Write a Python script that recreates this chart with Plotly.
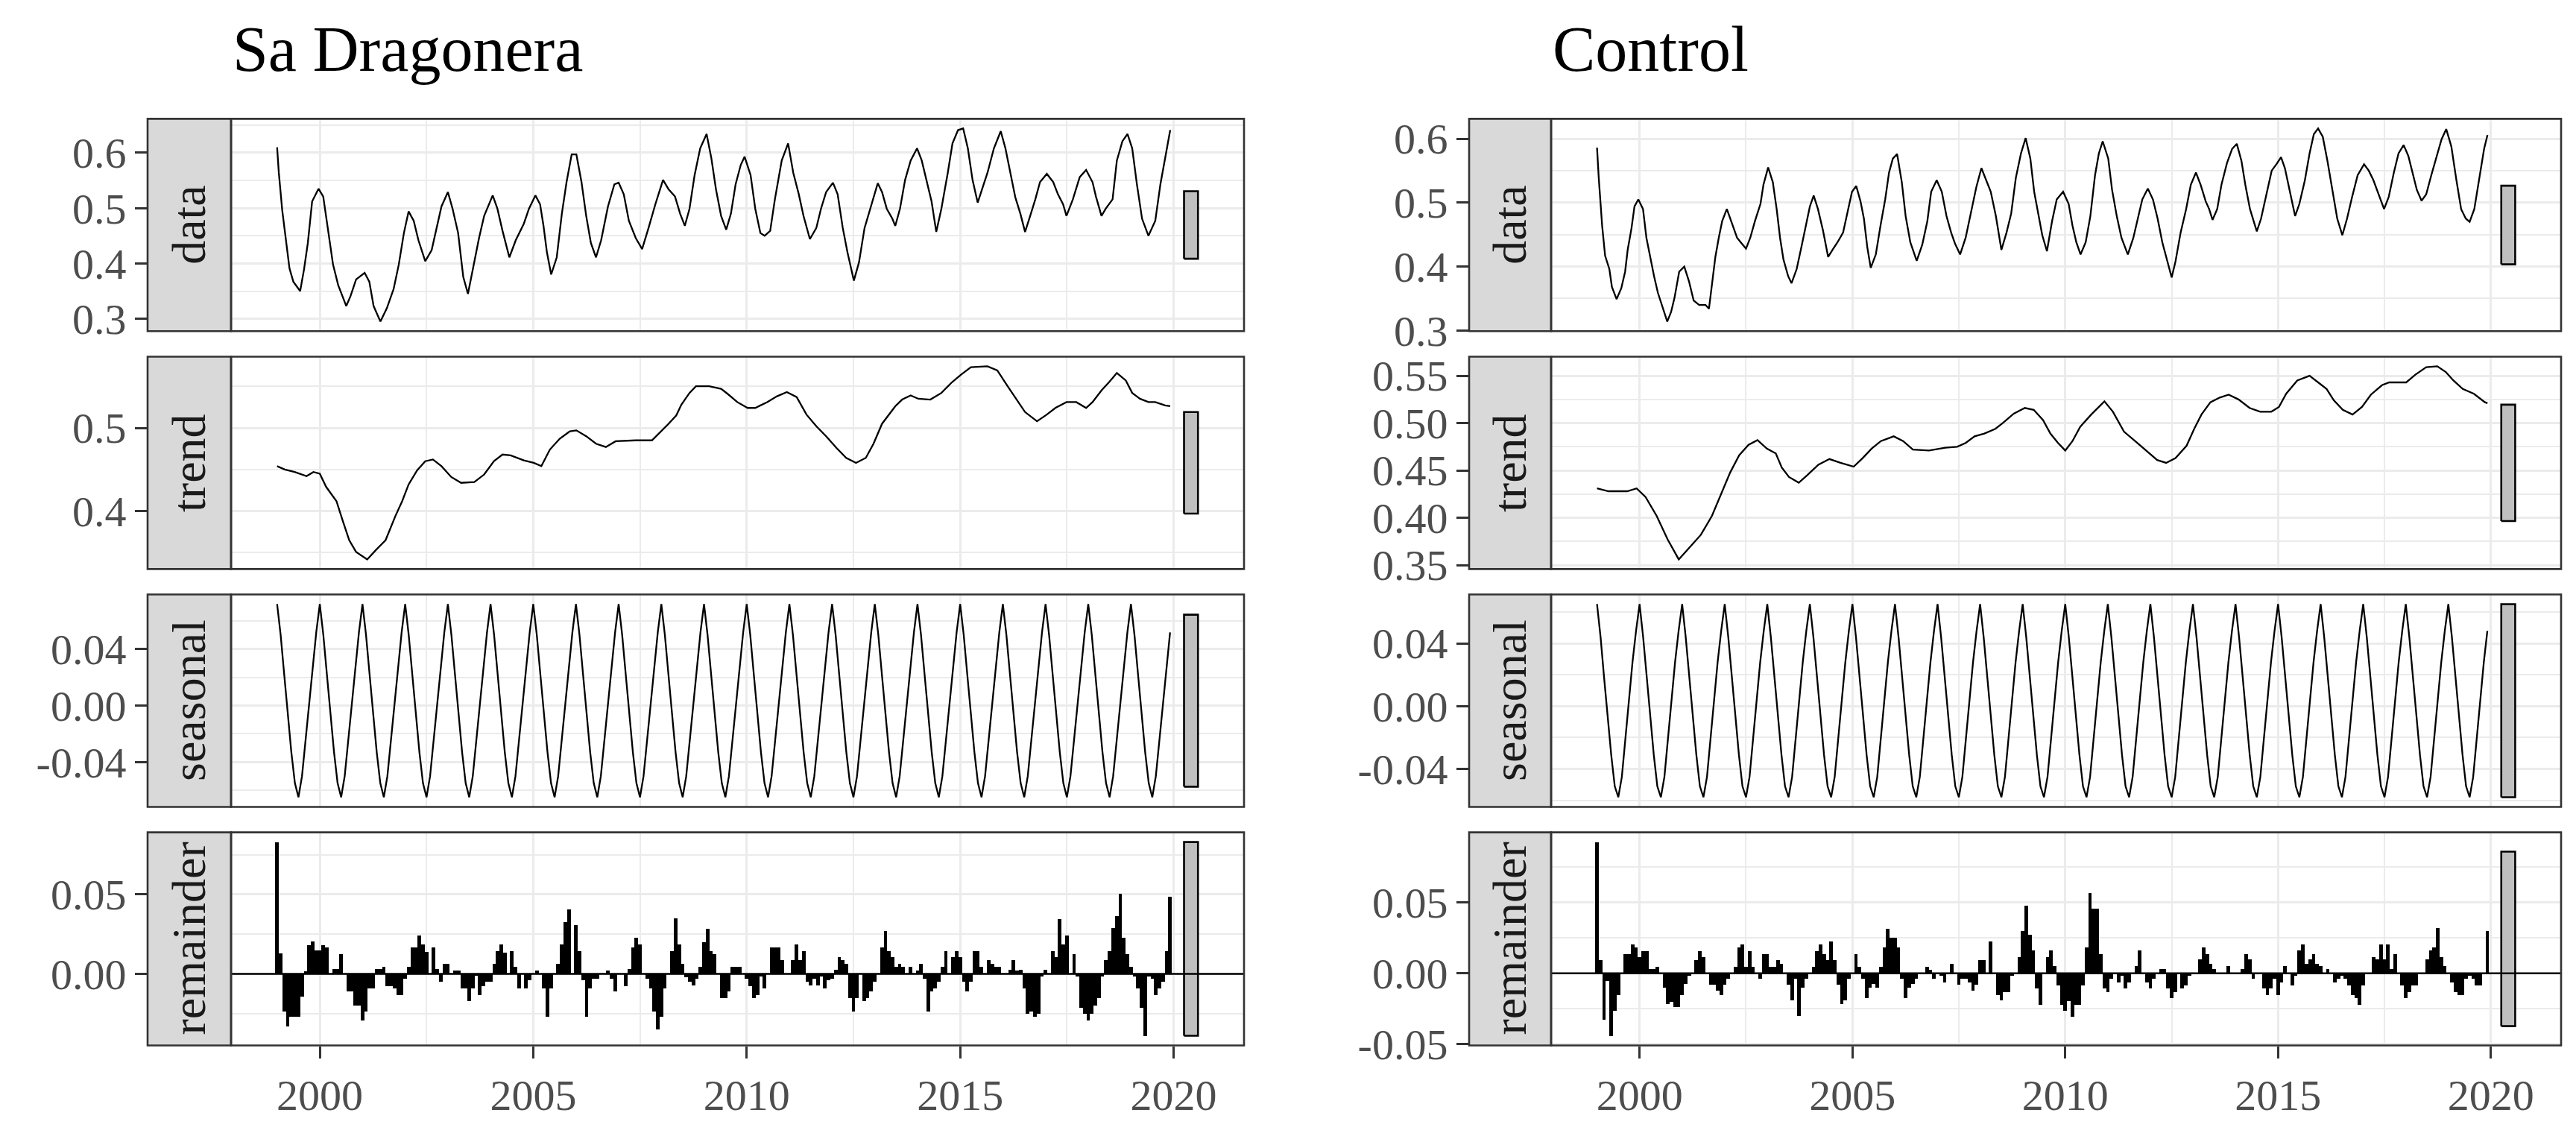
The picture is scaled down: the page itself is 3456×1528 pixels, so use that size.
import numpy as np
import plotly.graph_objects as go


START_YEAR = 1999
N_MONTHS = 252

SITES = ['Sa Dragonera', 'Control']
PARTS = ['data', 'trend', 'seasonal', 'remainder']

YEAR_TICKS = [2000, 2005, 2010, 2015, 2020]
YEAR_MINOR = [2002.5, 2007.5, 2012.5, 2017.5]

# ---------------- Sa Dragonera ----------------
sd_data_t = [
    1999.00, 1999.04, 1999.12, 1999.20, 1999.29, 1999.38, 1999.54, 1999.63, 1999.72, 1999.82,
    1999.97, 2000.08, 2000.18, 2000.31, 2000.43, 2000.62, 2000.72, 2000.85, 2001.05, 2001.16,
    2001.26, 2001.42, 2001.57, 2001.73, 2001.85, 2001.97, 2002.08, 2002.20, 2002.31, 2002.47,
    2002.62, 2002.74, 2002.85, 2003.00, 2003.11, 2003.24, 2003.36, 2003.47, 2003.59, 2003.73,
    2003.85, 2004.05, 2004.16, 2004.28, 2004.44, 2004.59, 2004.78, 2004.90, 2005.05, 2005.16,
    2005.24, 2005.32, 2005.42, 2005.55, 2005.67, 2005.78, 2005.90, 2006.01, 2006.13, 2006.24,
    2006.35, 2006.47, 2006.59, 2006.75, 2006.90, 2007.00, 2007.12, 2007.24, 2007.40, 2007.55,
    2007.70, 2007.86, 2008.04, 2008.17, 2008.32, 2008.44, 2008.55, 2008.66, 2008.78, 2008.91,
    2009.06, 2009.17, 2009.28, 2009.40, 2009.52, 2009.63, 2009.74, 2009.86, 2009.95, 2010.09,
    2010.20, 2010.32, 2010.42, 2010.55, 2010.66, 2010.82, 2010.97, 2011.09, 2011.22, 2011.33,
    2011.48, 2011.63, 2011.74, 2011.86, 2012.02, 2012.13, 2012.25, 2012.36, 2012.51, 2012.63,
    2012.76, 2012.91, 2013.07, 2013.17, 2013.28, 2013.41, 2013.48, 2013.59, 2013.71, 2013.84,
    2013.99, 2014.10, 2014.21, 2014.33, 2014.44, 2014.56, 2014.71, 2014.82, 2014.95, 2015.07,
    2015.18, 2015.29, 2015.41, 2015.53, 2015.64, 2015.79, 2015.95, 2016.06, 2016.18, 2016.29,
    2016.41, 2016.52, 2016.64, 2016.76, 2016.87, 2017.03, 2017.18, 2017.29, 2017.41, 2017.49,
    2017.64, 2017.80, 2017.95, 2018.10, 2018.18, 2018.31, 2018.41, 2018.57, 2018.67, 2018.80,
    2018.92, 2019.03, 2019.14, 2019.26, 2019.41, 2019.57, 2019.69, 2019.83, 2019.92,
]
sd_data_v = [
    0.610, 0.564, 0.496, 0.448, 0.391, 0.367, 0.350, 0.389, 0.437, 0.512,
    0.535, 0.521, 0.466, 0.398, 0.361, 0.323, 0.341, 0.371, 0.383, 0.367,
    0.323, 0.295, 0.319, 0.354, 0.398, 0.455, 0.494, 0.477, 0.442, 0.404,
    0.424, 0.464, 0.503, 0.529, 0.499, 0.455, 0.376, 0.345, 0.393, 0.446,
    0.486, 0.523, 0.499, 0.459, 0.411, 0.442, 0.472, 0.499, 0.523, 0.507,
    0.468, 0.420, 0.380, 0.411, 0.490, 0.547, 0.597, 0.597, 0.547, 0.486,
    0.437, 0.411, 0.442, 0.503, 0.543, 0.546, 0.525, 0.477, 0.446, 0.426,
    0.464, 0.507, 0.551, 0.534, 0.521, 0.490, 0.468, 0.499, 0.560, 0.608,
    0.634, 0.591, 0.534, 0.486, 0.461, 0.490, 0.543, 0.578, 0.593, 0.560,
    0.499, 0.455, 0.450, 0.459, 0.516, 0.586, 0.617, 0.564, 0.525, 0.486,
    0.444, 0.464, 0.499, 0.529, 0.546, 0.525, 0.464, 0.420, 0.369, 0.402,
    0.464, 0.503, 0.545, 0.529, 0.499, 0.481, 0.468, 0.499, 0.551, 0.586,
    0.608, 0.586, 0.551, 0.512, 0.457, 0.499, 0.564, 0.617, 0.641, 0.644,
    0.608, 0.551, 0.510, 0.538, 0.564, 0.608, 0.639, 0.608, 0.560, 0.520,
    0.490, 0.457, 0.486, 0.516, 0.547, 0.562, 0.547, 0.525, 0.507, 0.486,
    0.516, 0.556, 0.569, 0.547, 0.521, 0.486, 0.499, 0.516, 0.586, 0.621,
    0.634, 0.608, 0.543, 0.481, 0.450, 0.477, 0.543, 0.604, 0.641,
]
sd_trend_t = [
    1999.00, 1999.18, 1999.41, 1999.69, 1999.85, 2000.00, 2000.15, 2000.39, 2000.54, 2000.69,
    2000.85, 2001.11, 2001.31, 2001.54, 2001.77, 2001.93, 2002.08, 2002.28, 2002.47, 2002.65,
    2002.85, 2003.08, 2003.31, 2003.62, 2003.85, 2004.08, 2004.28, 2004.47, 2004.78, 2005.01,
    2005.19, 2005.39, 2005.62, 2005.86, 2006.01, 2006.24, 2006.47, 2006.70, 2006.93, 2007.40,
    2007.78, 2007.94, 2008.17, 2008.35, 2008.47, 2008.66, 2008.81, 2009.12, 2009.40, 2009.55,
    2009.78, 2010.02, 2010.20, 2010.48, 2010.71, 2010.94, 2011.17, 2011.40, 2011.63, 2011.86,
    2012.10, 2012.33, 2012.56, 2012.79, 2012.97, 2013.17, 2013.33, 2013.48, 2013.64, 2013.84,
    2014.02, 2014.30, 2014.56, 2014.79, 2015.02, 2015.25, 2015.64, 2015.87, 2016.10, 2016.33,
    2016.52, 2016.80, 2017.03, 2017.23, 2017.49, 2017.72, 2017.95, 2018.10, 2018.31, 2018.49,
    2018.67, 2018.88, 2019.03, 2019.21, 2019.41, 2019.57, 2019.80, 2019.92,
]
sd_trend_v = [
    0.454, 0.450, 0.447, 0.442, 0.447, 0.445, 0.429, 0.412, 0.388, 0.365,
    0.351, 0.342, 0.353, 0.365, 0.394, 0.412, 0.432, 0.449, 0.460, 0.462,
    0.454, 0.441, 0.434, 0.435, 0.444, 0.460, 0.468, 0.467, 0.461, 0.458,
    0.454, 0.474, 0.487, 0.496, 0.497, 0.490, 0.481, 0.477, 0.484, 0.485,
    0.485, 0.493, 0.505, 0.515, 0.528, 0.542, 0.550, 0.550, 0.547, 0.541,
    0.531, 0.524, 0.524, 0.531, 0.538, 0.543, 0.537, 0.516, 0.502, 0.490,
    0.476, 0.464, 0.458, 0.464, 0.481, 0.505, 0.516, 0.526, 0.534, 0.539,
    0.535, 0.534, 0.542, 0.554, 0.564, 0.573, 0.574, 0.569, 0.551, 0.534,
    0.519, 0.508, 0.516, 0.524, 0.531, 0.531, 0.524, 0.531, 0.545, 0.555,
    0.566, 0.557, 0.542, 0.535, 0.531, 0.531, 0.527, 0.526,
]
# one value per calendar month, Jan..Dec
sd_seasonal = [0.072, 0.050, 0.022, -0.006, -0.033, -0.055, -0.065, -0.050, -0.024, 0.004, 0.030, 0.052]
# monthly, Jan 1999 .. Dec 2019 (one row per year)
sd_remainder = [
    0.083, 0.013, -0.0235, -0.033, -0.027, -0.027, -0.027, -0.014, 0.002, 0.018, 0.0205, 0.015,
    0.015, 0.018, 0.017, 0.0, 0.003, 0.003, 0.0125, 0.0, -0.011, -0.011, -0.020, -0.020,
    -0.029, -0.0235, -0.009, -0.009, 0.003, 0.003, 0.0045, -0.0075, -0.0075, -0.009, -0.013, -0.013,
    -0.003, 0.0045, 0.0167, 0.0167, 0.0245, 0.0185, 0.014, 0.0, 0.0167, 0.003, -0.005, 0.0064,
    0.0064, 0.0, 0.0023, 0.0023, -0.009, -0.009, -0.017, -0.009, -0.001, -0.013, -0.0075, -0.005,
    -0.005, 0.0064, 0.0144, 0.0185, 0.0136, 0.0, 0.0144, 0.0045, -0.009, 0.0, -0.009, -0.004,
    0.0, 0.0023, 0.0, -0.009, -0.027, -0.009, 0.0, 0.0064, 0.0185, 0.0326, 0.0406, 0.0,
    0.0308, 0.0144, -0.004, -0.027, -0.009, -0.003, -0.003, 0.0, 0.0, 0.0023, -0.003, -0.011,
    0.0, 0.0, -0.0075, 0.003, 0.0167, 0.0227, 0.0185, 0.0, -0.003, -0.009, -0.0235, -0.035,
    -0.027, -0.009, 0.0, 0.0144, 0.035, 0.0185, 0.0064, -0.002, -0.005, -0.007, -0.003, 0.0045,
    0.020, 0.0285, 0.0144, 0.0124, 0.0, -0.015, -0.015, -0.011, 0.0045, 0.0045, 0.0045, 0.0,
    -0.003, -0.0075, -0.015, -0.013, -0.0015, -0.009, 0.0, 0.0167, 0.0167, 0.0167, 0.0088, 0.0,
    0.0, 0.0088, 0.0185, 0.0088, 0.0144, -0.005, -0.007, -0.003, -0.007, -0.0015, -0.009, -0.004,
    -0.003, 0.0027, 0.0106, 0.0088, 0.0064, -0.015, -0.0235, -0.015, 0.0, -0.017, -0.015, -0.011,
    -0.005, 0.0, 0.0167, 0.027, 0.0144, 0.0106, 0.0045, 0.0064, 0.0045, 0.0, 0.0045, 0.0,
    0.0023, 0.0064, -0.003, -0.0235, -0.011, -0.009, -0.005, 0.0045, 0.0144, 0.0, 0.0106, 0.0144,
    0.0106, -0.005, -0.011, -0.005, 0.0144, 0.0144, 0.0045, 0.0, 0.0088, 0.0064, 0.0045, 0.0045,
    0.0, 0.0, 0.0027, 0.0088, 0.0023, 0.0027, -0.009, -0.025, -0.0235, -0.027, -0.025, -0.0015,
    0.0027, 0.0, 0.0144, 0.0106, 0.0348, 0.0185, 0.0245, 0.0, 0.0124, -0.0015, -0.021, -0.025,
    -0.029, -0.025, -0.0197, -0.015, -0.0015, 0.0088, 0.0144, 0.0288, 0.0367, 0.0508, 0.0227, 0.0124,
    0.0045, -0.0015, -0.009, -0.021, -0.039, -0.0015, -0.003, -0.013, -0.009, -0.005, 0.0144, 0.0488,
]

# ---------------- Control ----------------
ct_data_t = [
    1999.00, 1999.04, 1999.12, 1999.19, 1999.29, 1999.35, 1999.46, 1999.57, 1999.66, 1999.72,
    1999.81, 1999.88, 1999.97, 2000.08, 2000.16, 2000.26, 2000.34, 2000.43, 2000.54, 2000.65,
    2000.74, 2000.82, 2000.93, 2001.05, 2001.16, 2001.27, 2001.40, 2001.55, 2001.63, 2001.71,
    2001.78, 2001.86, 2001.94, 2002.05, 2002.17, 2002.29, 2002.40, 2002.50, 2002.60, 2002.71,
    2002.84, 2002.91, 2003.02, 2003.13, 2003.22, 2003.30, 2003.38, 2003.49, 2003.57, 2003.69,
    2003.80, 2003.91, 2004.00, 2004.09, 2004.19, 2004.31, 2004.43, 2004.53, 2004.65, 2004.78,
    2004.88, 2004.99, 2005.09, 2005.19, 2005.27, 2005.35, 2005.43, 2005.55, 2005.66, 2005.77,
    2005.86, 2005.95, 2006.05, 2006.16, 2006.25, 2006.36, 2006.51, 2006.64, 2006.76, 2006.85,
    2006.98, 2007.10, 2007.21, 2007.32, 2007.41, 2007.53, 2007.66, 2007.78, 2007.91, 2008.03,
    2008.14, 2008.25, 2008.37, 2008.50, 2008.62, 2008.73, 2008.84, 2008.96, 2009.07, 2009.18,
    2009.27, 2009.38, 2009.46, 2009.57, 2009.69, 2009.80, 2009.95, 2010.08, 2010.17, 2010.26,
    2010.36, 2010.48, 2010.59, 2010.70, 2010.79, 2010.88, 2011.01, 2011.10, 2011.21, 2011.32,
    2011.47, 2011.60, 2011.71, 2011.81, 2011.94, 2012.06, 2012.17, 2012.28, 2012.40, 2012.50,
    2012.59, 2012.71, 2012.84, 2012.95, 2013.07, 2013.18, 2013.30, 2013.38, 2013.46, 2013.57,
    2013.67, 2013.80, 2013.92, 2014.03, 2014.14, 2014.23, 2014.34, 2014.50, 2014.60, 2014.73,
    2014.85, 2014.96, 2015.07, 2015.16, 2015.24, 2015.32, 2015.40, 2015.50, 2015.63, 2015.74,
    2015.84, 2015.94, 2016.05, 2016.16, 2016.28, 2016.39, 2016.51, 2016.62, 2016.74, 2016.87,
    2017.02, 2017.13, 2017.24, 2017.36, 2017.49, 2017.60, 2017.72, 2017.83, 2017.95, 2018.06,
    2018.17, 2018.26, 2018.37, 2018.48, 2018.60, 2018.73, 2018.84, 2018.95, 2019.07, 2019.19,
    2019.30, 2019.41, 2019.50, 2019.61, 2019.72, 2019.84, 2019.92,
]
ct_data_v = [
    0.586, 0.539, 0.464, 0.417, 0.396, 0.368, 0.349, 0.366, 0.392, 0.426,
    0.460, 0.494, 0.505, 0.490, 0.445, 0.411, 0.385, 0.359, 0.336, 0.314,
    0.329, 0.351, 0.392, 0.400, 0.377, 0.347, 0.340, 0.340, 0.334, 0.377,
    0.415, 0.445, 0.471, 0.490, 0.468, 0.445, 0.436, 0.428, 0.445, 0.471,
    0.498, 0.528, 0.555, 0.532, 0.490, 0.445, 0.411, 0.385, 0.374, 0.396,
    0.430, 0.464, 0.494, 0.511, 0.490, 0.456, 0.415, 0.426, 0.438, 0.453,
    0.483, 0.517, 0.526, 0.502, 0.475, 0.430, 0.398, 0.419, 0.464, 0.505,
    0.547, 0.569, 0.576, 0.532, 0.479, 0.438, 0.409, 0.434, 0.471, 0.517,
    0.535, 0.517, 0.479, 0.453, 0.436, 0.419, 0.445, 0.483, 0.524, 0.554,
    0.535, 0.517, 0.479, 0.426, 0.453, 0.483, 0.539, 0.577, 0.601, 0.569,
    0.517, 0.479, 0.449, 0.424, 0.471, 0.505, 0.517, 0.498, 0.464, 0.438,
    0.419, 0.438, 0.479, 0.543, 0.577, 0.596, 0.569, 0.520, 0.479, 0.445,
    0.419, 0.445, 0.475, 0.505, 0.522, 0.505, 0.475, 0.438, 0.408, 0.383,
    0.408, 0.453, 0.490, 0.528, 0.547, 0.528, 0.502, 0.490, 0.473, 0.490,
    0.528, 0.562, 0.584, 0.592, 0.565, 0.528, 0.490, 0.455, 0.475, 0.513,
    0.550, 0.560, 0.571, 0.554, 0.528, 0.505, 0.479, 0.498, 0.535, 0.577,
    0.607, 0.616, 0.603, 0.565, 0.517, 0.475, 0.449, 0.475, 0.509, 0.543,
    0.560, 0.550, 0.535, 0.513, 0.490, 0.509, 0.547, 0.577, 0.590, 0.573,
    0.543, 0.520, 0.503, 0.513, 0.543, 0.573, 0.599, 0.615, 0.588, 0.535,
    0.490, 0.475, 0.470, 0.490, 0.535, 0.584, 0.606,
]
ct_trend_t = [
    1999.00, 1999.27, 1999.71, 1999.93, 2000.14, 2000.40, 2000.66, 2000.92, 2001.18, 2001.44,
    2001.70, 2001.96, 2002.13, 2002.34, 2002.56, 2002.77, 2002.99, 2003.20, 2003.34, 2003.51,
    2003.74, 2003.94, 2004.20, 2004.46, 2004.72, 2005.03, 2005.24, 2005.45, 2005.67, 2005.97,
    2006.19, 2006.42, 2006.80, 2007.18, 2007.46, 2007.66, 2007.87, 2008.10, 2008.36, 2008.53,
    2008.79, 2009.05, 2009.26, 2009.48, 2009.65, 2009.83, 2010.00, 2010.17, 2010.35, 2010.61,
    2010.92, 2011.12, 2011.38, 2011.64, 2011.90, 2012.16, 2012.37, 2012.59, 2012.85, 2013.03,
    2013.20, 2013.41, 2013.63, 2013.84, 2014.07, 2014.33, 2014.58, 2014.84, 2015.02, 2015.19,
    2015.45, 2015.74, 2015.97, 2016.14, 2016.31, 2016.52, 2016.75, 2016.97, 2017.18, 2017.44,
    2017.61, 2018.01, 2018.22, 2018.48, 2018.74, 2018.94, 2019.12, 2019.34, 2019.60, 2019.86,
    2019.92,
]
ct_trend_v = [
    0.431, 0.428, 0.428, 0.431, 0.422, 0.402, 0.377, 0.356, 0.369, 0.382,
    0.402, 0.430, 0.448, 0.466, 0.477, 0.482, 0.473, 0.468, 0.453, 0.443,
    0.437, 0.445, 0.456, 0.462, 0.458, 0.454, 0.463, 0.473, 0.481, 0.486,
    0.481, 0.472, 0.471, 0.474, 0.475, 0.479, 0.486, 0.489, 0.494, 0.500,
    0.510, 0.516, 0.514, 0.503, 0.489, 0.479, 0.471, 0.481, 0.496, 0.509,
    0.523, 0.512, 0.491, 0.481, 0.471, 0.461, 0.458, 0.463, 0.476, 0.494,
    0.509, 0.522, 0.527, 0.530, 0.525, 0.516, 0.512, 0.512, 0.517, 0.531,
    0.545, 0.550, 0.542, 0.536, 0.524, 0.514, 0.509, 0.517, 0.530, 0.540,
    0.543, 0.543, 0.551, 0.559, 0.560, 0.554, 0.545, 0.536, 0.531, 0.522,
    0.521,
]
ct_seasonal = [0.065, 0.044, 0.018, -0.007, -0.031, -0.051, -0.058, -0.045, -0.021, 0.004, 0.028, 0.048]
ct_remainder = [
    0.0926, 0.0098, -0.0324, -0.005, -0.044, -0.026, -0.015, 0.0, 0.014, 0.014, 0.0206, 0.0186,
    0.0118, 0.016, 0.016, 0.003, 0.003, 0.005, 0.0, -0.010, -0.0216, -0.020, -0.0236, -0.0236,
    -0.015, -0.007, -0.0017, 0.0, 0.0098, 0.016, 0.0118, 0.0, -0.008, -0.008, -0.012, -0.015,
    -0.008, -0.0034, 0.0, 0.005, 0.0186, 0.0206, 0.005, 0.016, 0.005, 0.0, -0.0034, 0.014,
    0.014, 0.005, 0.005, 0.0098, 0.0068, 0.0, -0.008, -0.019, -0.0034, -0.030, -0.010, -0.0034,
    0.0, 0.005, 0.016, 0.0206, 0.014, 0.0098, 0.0228, 0.0098, -0.008, -0.0216, -0.019, -0.0034,
    0.0, 0.014, 0.005, -0.0034, -0.017, -0.010, -0.007, -0.010, 0.005, 0.0186, 0.0318, 0.0253,
    0.0253, 0.0186, -0.0034, -0.017, -0.010, -0.007, -0.0034, 0.0, 0.0, 0.005, 0.0025, -0.0034,
    0.0, -0.0017, -0.006, 0.0, 0.007, 0.0, -0.008, -0.0034, -0.0034, -0.006, -0.012, -0.008,
    0.0098, 0.0098, 0.0, 0.0228, 0.0, -0.015, -0.019, -0.0128, -0.0128, -0.0017, 0.0, 0.0119,
    0.030, 0.048, 0.0276, 0.0162, -0.0102, -0.0218, 0.0, 0.0119, 0.0162, 0.0051, -0.0082, -0.0218,
    -0.0264, -0.0196, -0.0306, -0.0218, -0.0218, -0.0082, 0.0187, 0.057, 0.046, 0.046, 0.014, -0.0102,
    -0.0128, -0.0034, 0.0, -0.006, -0.0017, -0.0102, -0.006, 0.0, 0.0051, 0.0162, 0.0, -0.006,
    -0.0102, -0.0034, 0.0, 0.003, 0.003, -0.0102, -0.017, -0.0128, 0.0, -0.0102, -0.0082, -0.0017,
    0.0, 0.0, 0.0099, 0.0187, 0.014, 0.0071, 0.003, 0.0, 0.0, 0.0, 0.0051, 0.0,
    0.0, 0.0, 0.003, 0.014, 0.0099, -0.0034, 0.0, 0.0, -0.0102, -0.015, -0.0102, -0.0034,
    -0.015, -0.006, 0.0051, 0.0, -0.0082, -0.0017, 0.0162, 0.0207, 0.0071, 0.0099, 0.014, 0.0071,
    0.0051, 0.0, 0.003, 0.0, -0.006, -0.0034, -0.0017, -0.0034, -0.0082, -0.015, -0.017, -0.0218,
    -0.0082, 0.0, 0.0, 0.0119, 0.0099, 0.0207, 0.0099, 0.0207, 0.003, 0.014, 0.0, -0.0082,
    -0.017, -0.0128, -0.0082, -0.0082, 0.0, 0.0, 0.0099, 0.0162, 0.0187, 0.032, 0.0119, 0.0051,
    0.0, -0.006, -0.0128, -0.015, -0.015, -0.0034, -0.0017, -0.0034, -0.0082, -0.0082, 0.0, 0.0298,
]

# y tick labels per panel (data, trend, seasonal, remainder)
sd_ticks = [[0.3, 0.4, 0.5, 0.6], [0.4, 0.5], [-0.04, 0.0, 0.04], [0.0, 0.05]]
sd_tick_text = [['0.3', '0.4', '0.5', '0.6'], ['0.4', '0.5'], ['-0.04', '0.00', '0.04'], ['0.00', '0.05']]
sd_minor = [[0.35, 0.45, 0.55, 0.65], [0.35, 0.45, 0.55], [-0.06, -0.02, 0.02, 0.06], [-0.025, 0.025, 0.075]]
ct_ticks = [[0.3, 0.4, 0.5, 0.6], [0.35, 0.40, 0.45, 0.50, 0.55], [-0.04, 0.0, 0.04], [-0.05, 0.0, 0.05]]
ct_tick_text = [['0.3', '0.4', '0.5', '0.6'], ['0.35', '0.40', '0.45', '0.50', '0.55'],
                ['-0.04', '0.00', '0.04'], ['-0.05', '0.00', '0.05']]
ct_minor = [[0.35, 0.45, 0.55], [0.375, 0.425, 0.475, 0.525], [-0.06, -0.02, 0.02, 0.06], [-0.025, 0.025, 0.075]]


# layout in page pixels
W, H = 3456, 1528
COL_PX = [(190, 302, 1661), (1963, 2073, 3428)]  # strip left, panel left, panel right
ROW_PX = [(150, 442), (477, 769), (804, 1096), (1131, 1424)]
FONT = 'Liberation Serif'
GRID = '#EBEBEB'
DARK = '#333333'


def month_times():
    return START_YEAR + np.arange(N_MONTHS) / 12.0


def site_series(data_t, data_v, trend_t, trend_v, seasonal, remainder):
    t = month_times()
    assert len(remainder) == N_MONTHS
    return [
        (np.array(data_t), np.array(data_v)),
        (np.array(trend_t), np.array(trend_v)),
        (t, np.tile(seasonal, N_MONTHS // 12)),
        (t, np.array(remainder)),
    ]


def expand(lo, hi, frac=0.05):
    span = hi - lo
    return [lo - frac * span, hi + frac * span]


def main():
    sites = [
        (site_series(sd_data_t, sd_data_v, sd_trend_t, sd_trend_v, sd_seasonal, sd_remainder),
         sd_ticks, sd_tick_text, sd_minor),
        (site_series(ct_data_t, ct_data_v, ct_trend_t, ct_trend_v, ct_seasonal, ct_remainder),
         ct_ticks, ct_tick_text, ct_minor),
    ]

    t = month_times()
    t_min, t_max = t[0], t[-1]
    bar_w = (t_max - t_min) / 64
    bar_x0, bar_x1 = t_max + bar_w, t_max + 2 * bar_w
    x_range = expand(t_min, bar_x1)

    traces = []
    layout = dict(
        width=W, height=H,
        margin=dict(l=0, r=0, t=0, b=0),
        paper_bgcolor='white', plot_bgcolor='white',
        showlegend=False, bargap=0,
    )
    shapes = []
    annotations = []
    tick_font = dict(family=FONT, size=58, color='#4D4D4D')

    for c, (series, ticks, tick_text, minor) in enumerate(sites):
        strip_l, panel_l, panel_r = COL_PX[c]
        bar_len = min(np.ptp(v) for _, v in series)

        annotations.append(dict(
            x=panel_l / W, y=1 - 106 / H, xref='paper', yref='paper',
            xanchor='left', yanchor='bottom', showarrow=False,
            text=SITES[c], font=dict(family=FONT, size=86, color='black'),
        ))

        for r, part in enumerate(PARTS):
            idx = c * 4 + r + 1
            sfx = '' if idx == 1 else str(idx)
            top, bot = ROW_PX[r]
            x_dom = [panel_l / W, panel_r / W]
            y_dom = [1 - bot / H, 1 - top / H]
            tx, vy = series[r]

            mid = (vy.max() + vy.min()) / 2
            lo = min(vy.min(), mid - bar_len / 2)
            hi = max(vy.max(), mid + bar_len / 2)
            y_range = expand(lo, hi)

            if part == 'remainder':
                traces.append(go.Bar(
                    x=tx, y=vy, width=1 / 12,
                    marker=dict(color='black', line=dict(width=0)),
                    xaxis='x' + sfx, yaxis='y' + sfx, hoverinfo='skip',
                ))
            else:
                traces.append(go.Scatter(
                    x=tx, y=vy, mode='lines',
                    line=dict(color='black', width=2.3),
                    xaxis='x' + sfx, yaxis='y' + sfx, hoverinfo='skip',
                ))

            b0, b1 = mid - bar_len / 2, mid + bar_len / 2
            traces.append(go.Scatter(
                x=[bar_x0, bar_x1, bar_x1, bar_x0, bar_x0],
                y=[b0, b0, b1, b1, b0],
                mode='lines', fill='toself', fillcolor='#BFBFBF',
                line=dict(color='black', width=2.6),
                xaxis='x' + sfx, yaxis='y' + sfx, hoverinfo='skip',
            ))
            if part == 'remainder':
                traces.append(go.Scatter(
                    x=x_range, y=[0, 0], mode='lines',
                    line=dict(color='black', width=2.6),
                    xaxis='x' + sfx, yaxis='y' + sfx, hoverinfo='skip',
                ))

            bottom = r == len(PARTS) - 1
            layout['xaxis' + sfx] = dict(
                domain=x_dom, anchor='y' + sfx, range=x_range,
                tickmode='array', tickvals=YEAR_TICKS, ticktext=[str(v) for v in YEAR_TICKS],
                showticklabels=bottom, ticks='outside' if bottom else '',
                ticklen=16, tickwidth=2.6, tickcolor=DARK,
                tickfont=tick_font,
                showgrid=True, gridcolor=GRID, gridwidth=3,
                minor=dict(tickmode='array', tickvals=YEAR_MINOR, showgrid=True,
                           gridcolor=GRID, gridwidth=1.8, ticks=''),
                zeroline=False, showline=False, fixedrange=True,
            )
            layout['yaxis' + sfx] = dict(
                domain=y_dom, anchor='free', position=strip_l / W, range=y_range,
                tickmode='array', tickvals=ticks[r], ticktext=tick_text[r],
                ticks='outside', ticklen=17, tickwidth=2.6, tickcolor=DARK,
                tickfont=tick_font,
                showgrid=True, gridcolor=GRID, gridwidth=3,
                minor=dict(tickmode='array', tickvals=minor[r], showgrid=True,
                           gridcolor=GRID, gridwidth=1.8, ticks=''),
                zeroline=False, showline=False, fixedrange=True,
            )

            # strip on the left of the panel, then the panel border
            shapes.append(dict(
                type='rect', xref='paper', yref='paper',
                x0=strip_l / W, x1=panel_l / W, y0=y_dom[0], y1=y_dom[1],
                fillcolor='#D9D9D9', line=dict(color=DARK, width=2.6), layer='above',
            ))
            shapes.append(dict(
                type='rect', xref='paper', yref='paper',
                x0=x_dom[0], x1=x_dom[1], y0=y_dom[0], y1=y_dom[1],
                fillcolor='rgba(0,0,0,0)', line=dict(color=DARK, width=2.6), layer='above',
            ))
            annotations.append(dict(
                x=(strip_l + panel_l) / 2 / W, y=(y_dom[0] + y_dom[1]) / 2,
                xref='paper', yref='paper', xanchor='center', yanchor='middle',
                showarrow=False, textangle=-90, text=part,
                font=dict(family=FONT, size=64, color='#1A1A1A'),
            ))

    layout['shapes'] = shapes
    layout['annotations'] = annotations
    fig = go.Figure(data=traces, layout=layout)
    fig.write_html('out.html', config={'displayModeBar': False})


if __name__ == '__main__':
    main()
